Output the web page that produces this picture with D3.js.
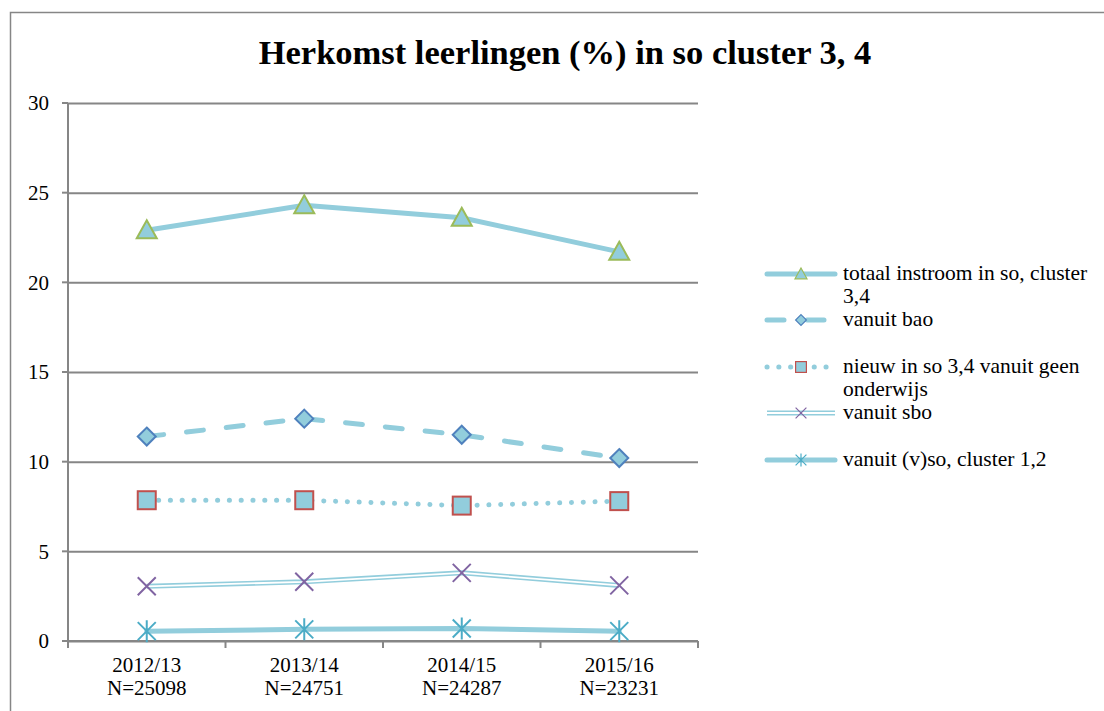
<!DOCTYPE html>
<html>
<head>
<meta charset="utf-8">
<script src="https://cdn.jsdelivr.net/npm/d3@7"></script>
<style>
  body { margin: 0; background: #fff; }
  text { font-family: "Liberation Serif", serif; fill: #000; }
</style>
</head>
<body>
<div id="chart"></div>
<script>
// categories and values
const years = ["2012/13", "2013/14", "2014/15", "2015/16"];
const totals = ["N=25098", "N=24751", "N=24287", "N=23231"];
const yTicks = [0, 5, 10, 15, 20, 25, 30];

const totaal = [22.9, 24.3, 23.6, 21.7];
const bao = [11.4, 12.4, 11.5, 10.2];
const nieuw = [7.85, 7.85, 7.55, 7.8];
const sbo = [3.05, 3.3, 3.8, 3.1];
const vso = [0.55, 0.65, 0.7, 0.55];

const seriesNames = [
  ["totaal instroom in so, cluster", "3,4"],
  ["vanuit bao"],
  ["nieuw in so 3,4 vanuit geen", "onderwijs"],
  ["vanuit sbo"],
  ["vanuit (v)so, cluster 1,2"]
];

const lineCol = "#92CDDC";
const series = [
  { name: seriesNames[0], values: totaal, dash: null, marker: "triangle", stroke: "#9BBB59" },
  { name: seriesNames[1], values: bao, dash: "17,23", marker: "diamond", stroke: "#4F81BD" },
  { name: seriesNames[2], values: nieuw, dash: "0.1,11.7", marker: "square", stroke: "#C0504D" },
  { name: seriesNames[3], values: sbo, dash: null, double: true, marker: "x", stroke: "#8064A2" },
  { name: seriesNames[4], values: vso, dash: null, marker: "star", stroke: "#4BACC6" }
];

const W = 1104, H = 711;
const svg = d3.select("#chart").append("svg")
  .attr("width", W).attr("height", H);

// outer frame (only top and left are visible)
svg.append("path")
  .attr("d", `M10.5,${H + 2}V12.5H${W + 2}`)
  .attr("fill", "none").attr("stroke", "#868686").attr("stroke-width", 1.5);

const pLeft = 68, pRight = 698, pTop = 103, pBottom = 641;

const x = d3.scaleBand().domain(years).range([pLeft, pRight]);
const y = d3.scaleLinear().domain([0, 30]).range([pBottom, pTop]);
const cx = d => x(d) + x.bandwidth() / 2;

svg.append("text")
  .attr("x", 565).attr("y", 64)
  .attr("text-anchor", "middle")
  .attr("font-size", 34.5).attr("font-weight", "bold")
  .text("Herkomst leerlingen (%) in so cluster 3, 4");

// gridlines
svg.append("g")
  .attr("transform", `translate(${pLeft},0)`)
  .call(d3.axisLeft(y).tickValues(yTicks).tickSize(-(pRight - pLeft)).tickSizeOuter(0).tickPadding(19))
  .call(g => g.select(".domain").remove())
  .call(g => g.selectAll(".tick line").attr("stroke", "#868686").attr("stroke-width", 2))
  .call(g => g.selectAll(".tick text").attr("font-size", 21).attr("font-family", "Liberation Serif"));

// y tick marks on left
svg.append("g")
  .selectAll("line").data(yTicks).join("line")
  .attr("x1", pLeft - 6).attr("x2", pLeft).attr("y1", d => y(d)).attr("y2", d => y(d))
  .attr("stroke", "#868686").attr("stroke-width", 2);

// y axis line
svg.append("line")
  .attr("x1", pLeft).attr("x2", pLeft).attr("y1", pTop).attr("y2", pBottom)
  .attr("stroke", "#868686").attr("stroke-width", 2);

// x axis
const xAxis = svg.append("g")
  .attr("transform", `translate(0,${pBottom})`);
xAxis.append("line").attr("x1", pLeft).attr("x2", pRight)
  .attr("stroke", "#868686").attr("stroke-width", 2);
const bounds = years.map(d => x(d)).concat([pRight]);
xAxis.selectAll("line.tk").data(bounds).join("line").attr("class", "tk")
  .attr("x1", d => d).attr("x2", d => d).attr("y1", 0).attr("y2", 7)
  .attr("stroke", "#868686").attr("stroke-width", 2);
// two separate rows of labels: year and N
xAxis.selectAll("text.yr").data(years).join("text").attr("class", "yr")
  .attr("text-anchor", "middle").attr("font-size", 21)
  .attr("x", d => cx(d)).attr("y", 31).text(d => d);
xAxis.selectAll("text.nn").data(years).join("text").attr("class", "nn")
  .attr("text-anchor", "middle").attr("font-size", 21)
  .attr("x", d => cx(d)).attr("y", 54).text((d, i) => totals[i]);

const line = d3.line().x((d, i) => cx(years[i])).y(d => y(d));

function drawLine(g, s, d) {
  const p = g.append("path").attr("d", d).attr("fill", "none")
    .attr("stroke", lineCol).attr("stroke-width", 5).attr("stroke-linecap", "round");
  if (s.dash) p.attr("stroke-dasharray", s.dash);
  if (s.double) {
    p.attr("stroke-linecap", "butt");
    g.append("path").attr("d", d).attr("fill", "none")
      .attr("stroke", "#fff").attr("stroke-width", 1.8);
  }
}

function drawMarker(g, s, px, py) {
  const m = g.append("g").attr("transform", `translate(${px},${py})`);
  if (s.marker === "triangle") {
    m.append("path").attr("d", "M0,-10L10,8L-10,8Z")
      .attr("fill", lineCol).attr("stroke", s.stroke).attr("stroke-width", 2);
  } else if (s.marker === "diamond") {
    m.append("path").attr("d", "M0,-9L9,0L0,9L-9,0Z")
      .attr("fill", lineCol).attr("stroke", s.stroke).attr("stroke-width", 2);
  } else if (s.marker === "square") {
    m.append("rect").attr("x", -9).attr("y", -9).attr("width", 18).attr("height", 18)
      .attr("fill", lineCol).attr("stroke", s.stroke).attr("stroke-width", 2);
  } else if (s.marker === "x") {
    m.append("path").attr("d", "M-9,-9L9,9M-9,9L9,-9")
      .attr("stroke", s.stroke).attr("stroke-width", 2);
  } else {
    m.append("path").attr("d", "M-9,-9L9,9M-9,9L9,-9M0,-11V11")
      .attr("stroke", s.stroke).attr("stroke-width", 2);
  }
}

const plot = svg.append("g");
series.forEach(s => {
  const g = plot.append("g");
  drawLine(g, s, line(s.values));
  s.values.forEach((v, i) => drawMarker(g, s, cx(years[i]), y(v)));
});

// legend
const legendY = [274, 320, 367, 413, 460];
series.forEach((s, i) => {
  const g = svg.append("g");
  const ly = legendY[i];
  drawLine(g, s, `M767,${ly}H835`);
  const ms = { marker: s.marker, stroke: s.stroke };
  const m = g.append("g").attr("transform", `translate(801,${ly}) scale(0.6)`);
  drawMarker(m, ms, 0, 0);
  const t = g.append("text").attr("font-size", 21.5);
  s.name.forEach((n, j) => {
    t.append("tspan").attr("x", 843).attr("y", ly + 6 + j * 23).text(n);
  });
});
</script>
</body>
</html>
